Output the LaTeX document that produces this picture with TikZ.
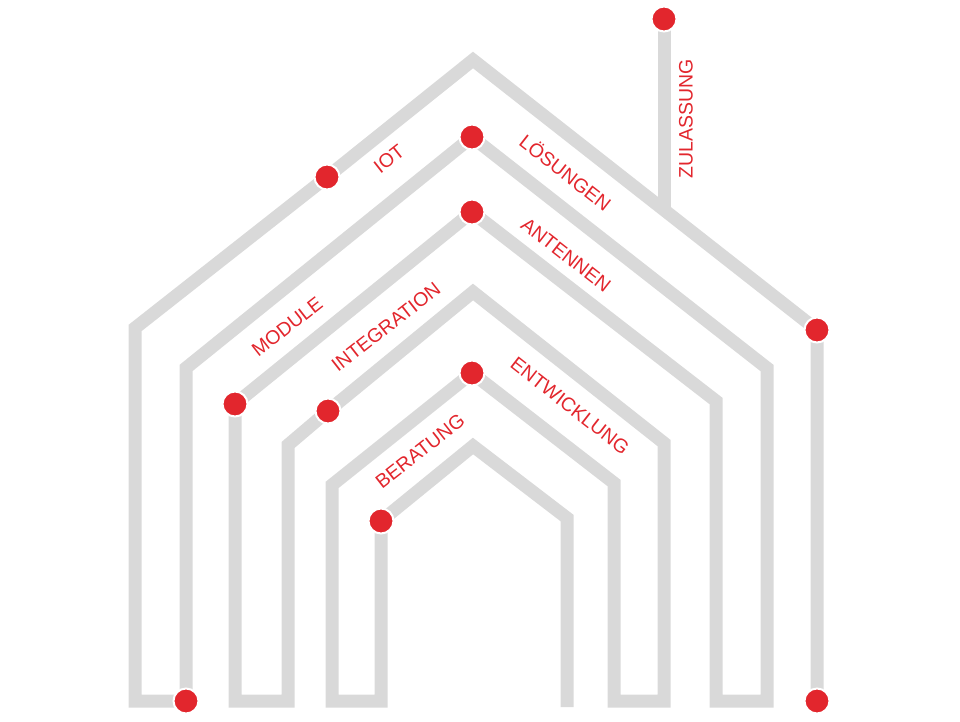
\documentclass[tikz,border=0pt]{standalone}
\usepackage{fontspec}
\setmainfont{Liberation Sans}
\usepackage{xcolor}
\usepackage{tikz}
\usetikzlibrary{backgrounds}

\definecolor{trackgray}{HTML}{D9D9D9}
\definecolor{dotred}{HTML}{E2262D}

\begin{document}
\begin{tikzpicture}[x=1pt, y=-1pt,
		dot/.style={circle, fill=dotred, draw=white, line width=2pt, minimum size=25pt, inner sep=0pt},
		track/.style={draw=trackgray, line width=13pt, line join=miter},
		lbl/.style={text=dotred, inner sep=0pt, font=\fontsize{19.5}{19.5}\selectfont}]
		\useasboundingbox (0,0) rectangle (960,721);
		\begin{scope}
			% red points
			\node [dot] (end)  at (817,701) {};
			\node [dot] (rr)   at (817,330) {};
			\node [dot] (iot)  at (327,177) {};
			\node [dot] (zul)  at (664,19)  {};
			\node [dot] (bl)   at (186,701) {};
			\node [dot] (loes) at (472,137) {};
			\node [dot] (ant)  at (472,212) {};
			\node [dot] (mod)  at (235,404) {};
			\node [dot] (int)  at (328,411) {};
			\node [dot] (ent)  at (472,373) {};
			\node [dot] (ber)  at (381,521) {};

			% corners of the track
			\coordinate (a1) at (473,60);   \coordinate (l1) at (135,328);  \coordinate (b1) at (135,701);
			\coordinate (l2) at (186,368);  \coordinate (r2) at (767,368);  \coordinate (b2) at (767,701);
			\coordinate (b3) at (716,701);  \coordinate (r3) at (716,401);
			\coordinate (b4) at (235,701);  \coordinate (b5) at (288,701);  \coordinate (l5) at (288,445);
			\coordinate (a5) at (473,292);  \coordinate (r5) at (664,443);  \coordinate (b6) at (664,701);
			\coordinate (b7) at (614,701);  \coordinate (r7) at (614,483);
			\coordinate (l8) at (332,485);  \coordinate (b8) at (332,701);  \coordinate (b9) at (381,701);
			\coordinate (a9) at (473,446);  \coordinate (r9) at (567,518);  \coordinate (foot) at (567,707);
			\coordinate (fork) at (664,212);

			\begin{pgfonlayer}{background}
				\path [track] (end.center) -- (rr.center) -- (a1) -- (iot.center) -- (l1) -- (b1) -- (bl.center)
					-- (l2) -- (loes.center) -- (r2) -- (b2) -- (b3) -- (r3) -- (ant.center)
					-- (mod.center) -- (b4) -- (b5) -- (l5) -- (int.center) -- (a5) -- (r5) -- (b6)
					-- (b7) -- (r7) -- (ent.center) -- (l8) -- (b8) -- (b9) -- (ber.center)
					-- (a9) -- (r9) -- (foot);
				\path [track] (zul.center) -- (fork);
			\end{pgfonlayer}

			% labels
			\node [lbl, rotate=38]  (tiot) at (389,159) {IOT};
			\node [lbl, rotate=-38] (tloe) at (566,172) {LÖSUNGEN};
			\node [lbl, rotate=90]  (tzul) at (686,119) {ZULASSUNG};
			\node [lbl, rotate=-38] (tant) at (566,255) {ANTENNEN};
			\node [lbl, rotate=38]  (tmod) at (287,327) {MODULE};
			\node [lbl, rotate=38]  (tint) at (386,327) {INTEGRATION};
			\node [lbl, rotate=-38] (tent) at (570,406) {ENTWICKLUNG};
			\node [lbl, rotate=38]  (tber) at (420,451) {BERATUNG};
		\end{scope}
\end{tikzpicture}
\end{document}
